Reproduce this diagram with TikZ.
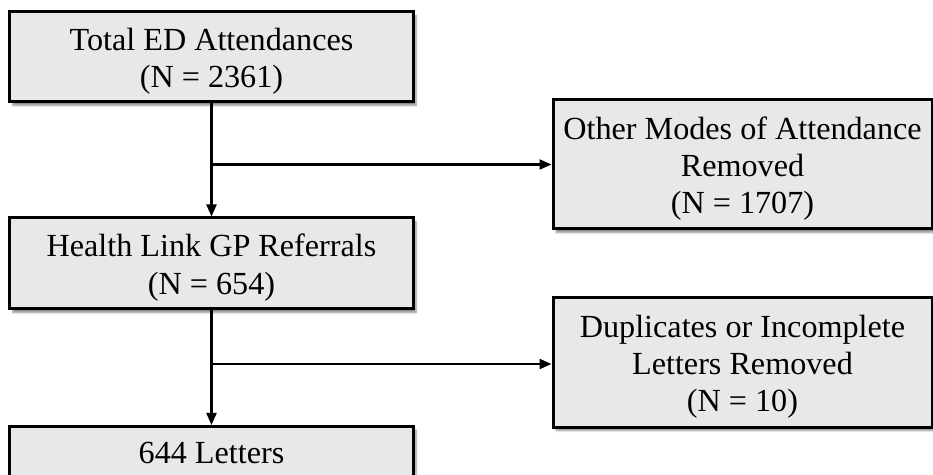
\documentclass[tikz,border=0pt]{standalone}
\usepackage{fontspec}
\setmainfont{Liberation Serif}
\usetikzlibrary{arrows.meta,shadows.blur}
\newcommand{\toppad}{\rule{0pt}{31bp}}
\tikzset{
  stage/.style = {draw, line width=3bp, fill=black!9, align=center,
    inner sep=0pt, font=\fontsize{32.3}{37.5}\selectfont,
    blur shadow={shadow xshift=3bp, shadow yshift=-3.5bp, shadow blur steps=6, shadow opacity=45}},
  flow/.style = {line width=2.2bp, -{Triangle[length=12bp,width=10bp]}}
}
\begin{document}
\begin{tikzpicture}[x=1bp, y=-1bp]
  \useasboundingbox (0,0) rectangle (933,475);
  \clip (0,0) rectangle (933,475);
  % left column
  \node [stage, minimum width=403bp, minimum height=90bp] (total) at (211.5,57) {\toppad Total ED Attendances\\(N = 2361)};
  \node [stage, minimum width=403bp, minimum height=91bp] (referrals) at (211.5,263.5) {\toppad Health Link GP Referrals\\(N = 654)};
  \node [stage, minimum width=403bp, minimum height=100bp, anchor=north] (letters) at (211.5,425) {};
  \node [anchor=base, font=\fontsize{32.3}{37.5}\selectfont] (letterstext) at (211.5,463) {644 Letters};
  % right column
  \node [stage, minimum width=379bp, minimum height=129bp] (modes) at (742.5,164.5) {\toppad Other Modes of Attendance\\Removed\\(N = 1707)};
  \node [stage, minimum width=379bp, minimum height=129bp] (dups) at (742.5,362.5) {\toppad Duplicates or Incomplete\\Letters Removed\\(N = 10)};
  % connectors
  \coordinate (split1) at (211.5,164.5);
  \coordinate (split2) at (211.5,364);
  \draw [flow] (total) -- (referrals);
  \draw [flow] (split1) -- (modes);
  \draw [flow] (referrals) -- (letters);
  \draw [flow] (split2) -- (split2 -| dups.west);
\end{tikzpicture}
\end{document}
